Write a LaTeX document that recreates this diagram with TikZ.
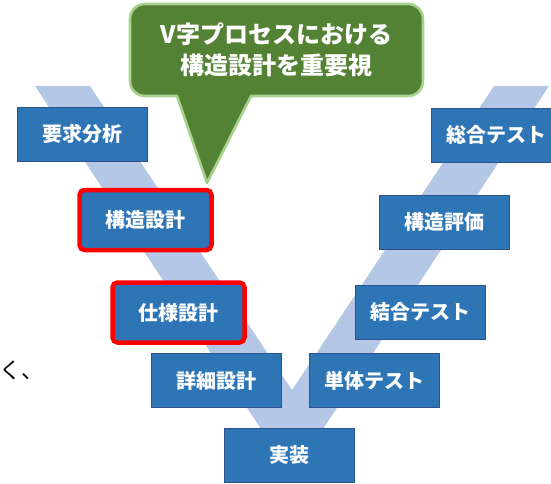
\documentclass[tikz,border=0pt]{standalone}
\usepackage{fontspec}
\setmainfont{Noto Sans CJK JP}
\definecolor{boxblue}{HTML}{2E75B6}
\definecolor{boxedge}{HTML}{2F528F}
\definecolor{bandblue}{HTML}{B4C7E7}
\definecolor{calloutgreen}{HTML}{548235}
\definecolor{calloutedge}{HTML}{A9D18E}
\definecolor{hired}{HTML}{FF0000}
\tikzset{
  phasebox/.style={draw=boxedge, line width=0.9pt, fill=boxblue, text=white,
    minimum width=130pt, minimum height=54pt, inner sep=0pt,
    font=\fontsize{20}{24}\selectfont\bfseries},
  keybox/.style={phasebox, draw=hired, line width=4.5pt, rounded corners=5pt,
    minimum width=132pt, minimum height=60pt},
  band/.style={fill=bandblue, draw=none},
  calloutshape/.style={fill=calloutgreen, draw=calloutedge, line width=2.6pt, line join=round},
  callouttext/.style={text=white, align=center, inner sep=0pt,
    font=\fontsize{24}{31}\selectfont\bfseries},
  sidetext/.style={text=black, anchor=west, inner sep=0pt, font=\fontsize{22}{26}\selectfont}
}
\begin{document}
\begin{tikzpicture}[x=1pt,y=-1pt]
\useasboundingbox (0,0) rectangle (551,484);
\clip (0,0) rectangle (551,484);
% V band
\coordinate (vl1) at (35,86);
\coordinate (vl2) at (90,86);
\coordinate (vin) at (292,390);
\coordinate (vr1) at (494,86);
\coordinate (vr2) at (549,86);
\coordinate (vout) at (292,476);
\fill[band] (vl1) -- (vl2) -- (vin) -- (vr1) -- (vr2) -- (vout) -- cycle;
% callout
\draw[calloutshape] (270,4) [rounded corners=15pt] -- (423,4) -- (423,96) [sharp corners] -- (251,96) -- (207,183) -- (177,96) [rounded corners=15pt] -- (130,96) -- (130,4) -- cycle;
\node[callouttext] (msg) at (276.5,50) {V字プロセスにおける\\構造設計を重要視};
% boxes
\node[phasebox] (req) at (82,134) {要求分析};
\node[keybox] (arch) at (145.5,220) {構造設計};
\node[keybox] (spec) at (178.5,312.5) {仕様設計};
\node[phasebox] (detail) at (216.5,380.5) {詳細設計};
\node[phasebox] (impl) at (289,455) {実装};
\node[phasebox] (unit) at (374.5,380.5) {単体テスト};
\node[phasebox] (integ) at (420.5,312) {結合テスト};
\node[phasebox] (archeval) at (444.5,222) {構造評価};
\node[phasebox] (system) at (496.5,135) {総合テスト};
\node[sidetext] (side) at (-1,370) {く、};
\end{tikzpicture}
\end{document}
